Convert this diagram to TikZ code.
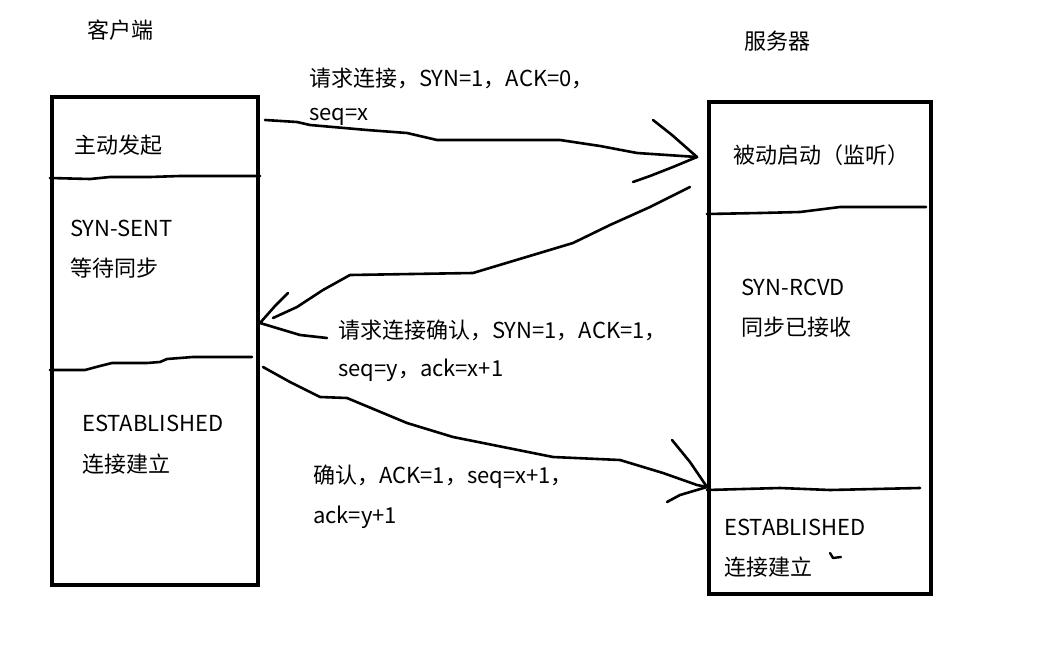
\documentclass[tikz,border=0pt]{standalone}
\usepackage{fontspec}
\setmainfont{Noto Sans CJK SC}
\begin{document}
\begin{tikzpicture}[x=1pt,y=-1pt,
  lbl/.style={anchor=west,inner sep=0pt,font=\fontsize{22}{26}\selectfont},
  ttl/.style={inner sep=0pt,font=\fontsize{22}{26}\selectfont},
  boxst/.style={draw,line width=4pt,minimum width=0pt,inner sep=0pt},
  hand/.style={line width=2.6pt,line cap=round,line join=round},
  div/.style={line width=2.6pt,line cap=round,line join=round}]
\useasboundingbox (0,0) rectangle (1049,650);
% titles
\node[ttl] (client) at (120,30) {客户端};
\node[ttl] (server) at (777,41) {服务器};
% boxes
\node[boxst,minimum width=206pt,minimum height=487pt] (cbox) at (155,341) {};
\node[boxst,minimum width=222pt,minimum height=492pt] (sbox) at (820,348) {};
% dividers left
\draw[div] (cbox.west |- 0,178) -- (90,179) -- (110,177) -- (150,177) -- (180,176) -- (cbox.east |- 0,176);
\draw[div] (cbox.west |- 0,370) -- (85,370) -- (100,366) -- (112,363) -- (147,363) -- (160,362) -- (167,359) -- (193,357) -- (252,357);
% dividers right
\draw[div] (sbox.west |- 0,214) -- (760,213) -- (800,212) -- (840,207) -- (926,207);
\draw[div] (sbox.west |- 0,490) -- (780,488) -- (830,490) -- (920,488);
% left texts
\node[lbl] (c1) at (74,145) {主动发起};
\node[lbl] (c2) at (70,228) {SYN-SENT};
\node[lbl] (c3) at (70,268) {等待同步};
\node[lbl] (c4) at (82,423) {ESTABLISHED};
\node[lbl] (c5) at (82,464) {连接建立};
% right texts
\node[lbl] (s1) at (733,155) {被动启动（监听）};
\node[lbl] (s2) at (741,287) {SYN-RCVD};
\node[lbl] (s3) at (741,327) {同步已接收};
\node[lbl] (s4) at (724,527) {ESTABLISHED};
\node[lbl] (s5) at (724,567) {连接建立};
% message labels
\node[lbl] (m1a) at (309,78) {请求连接，SYN=1，ACK=0，};
\node[lbl] (m1b) at (309,117) {seq=x};
\node[lbl] (m2a) at (338,330) {请求连接确认，SYN=1，ACK=1，};
\node[lbl] (m2b) at (338,370) {seq=y，ack=x+1};
\node[lbl] (m3a) at (313,477) {确认，ACK=1，seq=x+1，};
\node[lbl] (m3b) at (313,517) {ack=y+1};
% connector end points
\coordinate (a1s) at (265,120);
\coordinate (a1e) at (697,157);
\coordinate (a2s) at (690,187);
\coordinate (a2e) at (260,323);
\coordinate (a3s) at (263,367);
\coordinate (a3e) at (707,487);
% arrow 1
\draw[hand] (a1s) -- (297,122) -- (310,125) -- (367,130) -- (407,133) -- (437,140) -- (560,140) -- (600,146) -- (637,153) -- (a1e);
\draw[hand] (653,120) -- (672,135) -- (a1e) -- (673,167) -- (650,176) -- (633,182);
% arrow 2
\draw[hand] (a2s) -- (650,207) -- (610,225) -- (573,243) -- (473,273) -- (350,275) -- (323,290) -- (297,307) -- (273,318);
\draw[hand] (288,293) -- (275,306) -- (a2e) -- (300,335) -- (327,338);
% arrow 3
\draw[hand] (a3s) -- (290,382) -- (320,397) -- (347,398) -- (407,423) -- (453,437) -- (553,457) -- (620,460) -- (663,473) -- (697,485) -- (a3e);
\draw[hand] (672,440) -- (690,462) -- (a3e) -- (680,495) -- (667,502);
% small tick
\draw[line width=2.4pt,line cap=round,line join=round] (830,553) -- (833,558) -- (841,557);
\end{tikzpicture}
\end{document}
